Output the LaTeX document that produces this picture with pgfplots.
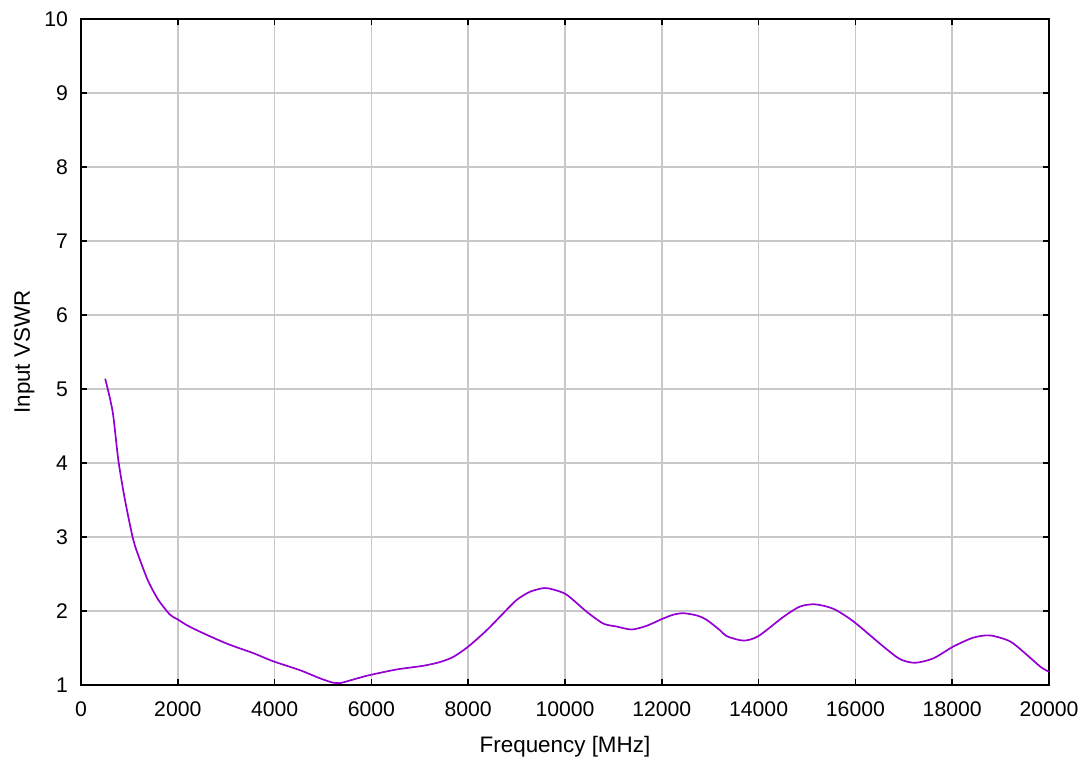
\documentclass[border=0pt]{standalone}
\usepackage{pgfplots}
\pgfplotsset{compat=1.18}
\usepackage{fontspec}
\setmainfont{Liberation Sans}
\definecolor{curve}{RGB}{148,0,211}
\definecolor{gridc}{RGB}{200,200,200}
\begin{document}
\begin{tikzpicture}
\begin{axis}[
  name=ax,
  scale only axis,
  width=484pt, height=333pt,
  xmin=0, xmax=20000, ymin=1, ymax=10,
  xtick={0,2000,...,20000},
  ytick={1,2,...,10},
  scaled x ticks=false,
  xticklabel style={/pgf/number format/1000 sep={}},
  /pgf/number format/assume math mode=true,
  tick label style={font=\fontsize{10.6}{12}\selectfont},
  label style={font=\fontsize{11.2}{13}\selectfont},
  xlabel={Frequency [MHz]},
  ylabel={Input VSWR},
  xlabel style={yshift=-2.5pt},
  ylabel style={yshift=-2pt},
  tick align=inside,
  major tick length=3pt,
  tick style={black, line width=0.8pt},
  axis line style={black, line width=1pt},
  grid=major,
  major grid style={gridc, line width=0.8pt},
  xticklabel style={yshift=-5pt},
  yticklabel style={xshift=-3pt},
]
\addplot[curve, line width=0.85pt, no marks, smooth, tension=0.45] coordinates {
(500,5.14) (655,4.69) (771,4.04) (909,3.50) (1081,2.96) (1219,2.69)
(1391,2.40) (1598,2.15) (1839,1.95) (1990,1.89) (2183,1.81) (2459,1.72)
(3010,1.56) (3561,1.43) (3974,1.32) (4525,1.20) (4938,1.09) (5213,1.03)
(5351,1.025) (5764,1.10) (5971,1.135) (6523,1.21) (7074,1.26) (7417,1.31)
(7693,1.38) (8003,1.52) (8382,1.74) (8726,1.97) (9002,2.15) (9277,2.26)
(9566,2.31) (9759,2.29) (10035,2.22) (10448,1.99) (10792,1.83) (11068,1.79)
(11378,1.75) (11688,1.80) (11998,1.89) (12239,1.95) (12446,1.97) (12722,1.94)
(12927,1.88) (13202,1.74) (13340,1.66) (13685,1.60) (13994,1.66) (14511,1.92)
(14855,2.06) (15165,2.09) (15544,2.03) (15957,1.86) (16577,1.52) (16921,1.35)
(17231,1.30) (17610,1.36) (18023,1.52) (18437,1.64) (18781,1.67) (19194,1.59)
(19538,1.41) (19835,1.24) (20000,1.18)
};
\end{axis}
\pgfresetboundingbox
\path (ax.south west) ++(-40.5pt,-37.5pt) coordinate (bl);
\path (ax.north east) ++(19.5pt,9.5pt) coordinate (tr);
\path[use as bounding box] (bl) rectangle (tr);
\end{tikzpicture}
\end{document}
